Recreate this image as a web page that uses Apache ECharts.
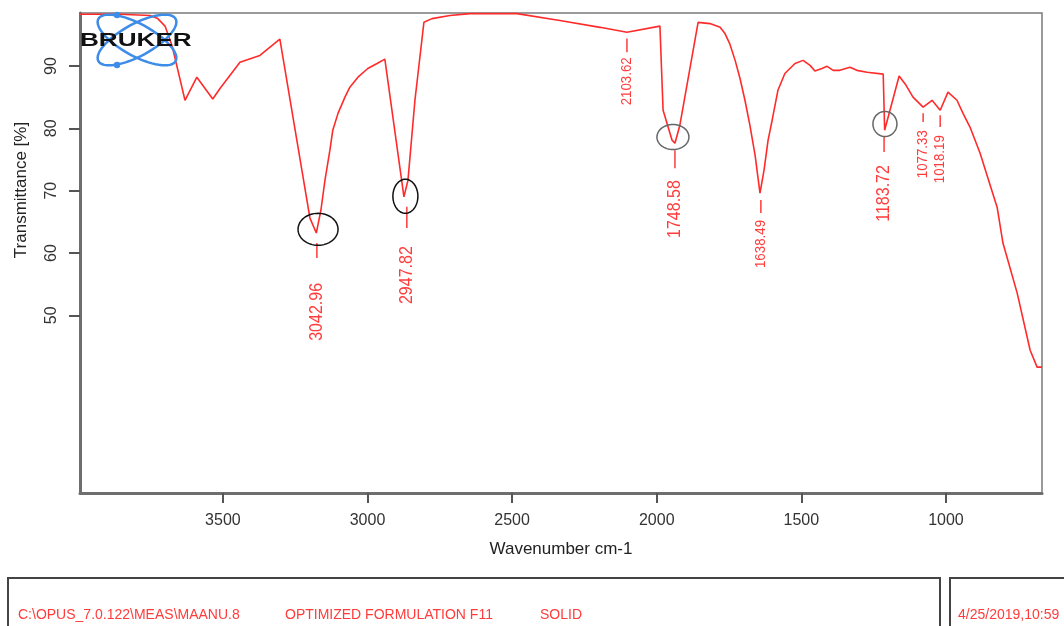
<!DOCTYPE html>
<html><head><meta charset="utf-8">
<script src="https://cdn.jsdelivr.net/npm/echarts@6/dist/echarts.min.js"></script>
<style>html,body{margin:0;padding:0;background:#fff}#c{width:1064px;height:626px}</style>
</head><body><div id="c"></div>
<script>
// ---- data ----
const wavenumber = [3994,3856,3752,3725,3700,3676,3631,3590,3535,3510,3441,3372,3303,3199,3177,3161,3147,3130,3120,3102,3078,3061,3033,2999,2967,2940,2874,2860,2836,2805,2777,2715,2646,2483,2335,2196,2103,1989,1978,1947,1937,1920,1857,1816,1781,1764,1747,1729,1712,1695,1678,1660,1643,1629,1615,1601,1581,1557,1522,1494,1470,1453,1429,1411,1390,1367,1332,1308,1273,1217,1212,1162,1138,1114,1079,1048,1020,993,962,941,917,882,823,803,754,709,685,668];
const transmittance = [98.3,98.3,98.1,97.6,96.4,93.3,84.5,88.2,84.7,86.4,90.6,91.7,94.3,65.6,63.2,66.9,71.7,76.5,79.7,82.4,85.0,86.6,88.2,89.6,90.4,91.1,69.0,71.7,84.5,97.0,97.6,98.1,98.4,98.4,97.3,96.2,95.4,96.4,82.9,78.1,77.6,80.5,97.0,96.8,96.2,95.2,93.5,90.9,88.0,84.5,80.5,75.7,69.6,73.3,78.1,81.3,86.1,88.8,90.4,90.9,90.1,89.2,89.6,89.95,89.3,89.3,89.8,89.3,89.0,88.7,79.7,88.4,86.9,85.0,83.4,84.5,82.9,85.8,84.5,82.4,80.2,76.0,67.3,61.6,53.6,44.4,41.7,41.7];
const xTicks = [3500,3000,2500,2000,1500,1000];
const yTicks = [50,60,70,80,90];
const peakLabels = ['3042.96','2947.82','2103.62','1748.58','1638.49','1183.72','1077.33','1018.19'];
const peakPos = [3175,2864,2103,1937,1640,1214,1079,1020];
const peakTickTop = [61.6,67.4,94.4,76.5,68.5,78.6,82.4,82.1];
const peakTickBottom = [59.2,64.0,92.2,73.6,66.4,76.2,81.0,80.2];
const peakLabelTop = [55.2,61.1,91.4,71.7,65.3,74.1,79.7,78.9];
const circledW = [3171,2869,1944,1211];
const circledT = [63.8,69.1,78.6,80.7];
const footerTexts = ['C:\\OPUS_7.0.122\\MEAS\\MAANU.8','OPTIMIZED FORMULATION F11','SOLID','4/25/2019,10:59'];

// ---- styles ----
const RED = '#ff2a2a';
const LABEL_RED = '#ff3b3b';
const smallLabels = new Set(['2103.62','1638.49','1077.33','1018.19']);
const circleStyle = [{rx:20,ry:16,c:'#111'},{rx:12.5,ry:17,c:'#111'},{rx:16,ry:12.5,c:'#666'},{rx:12,ry:12.5,c:'#666'}];
const footerX = [18,285,540,958];

const chart = echarts.init(document.getElementById('c'), null, {renderer:'canvas'});
chart.setOption({
  animation:false,
  grid:{left:80,right:22,top:13,bottom:133,show:true,borderColor:'#7a7a7a',borderWidth:1.5,containLabel:false},
  xAxis:{type:'value',inverse:true,min:668,max:3994,
    axisLine:{show:true,lineStyle:{color:'#6e6e6e',width:3}},
    axisTick:{show:true,length:10,lineStyle:{color:'#555',width:2},customValues:xTicks},
    axisLabel:{fontSize:16,color:'#333',margin:20,fontFamily:'Liberation Sans, Arial',customValues:xTicks,formatter:v=>String(v)},
    splitLine:{show:false},
    name:'Wavenumber cm-1',nameLocation:'middle',nameGap:48,
    nameTextStyle:{fontSize:17,color:'#222',fontFamily:'Liberation Sans, Arial'}},
  yAxis:{type:'value',min:21.5,max:98.5,
    axisLine:{show:true,lineStyle:{color:'#6e6e6e',width:3}},
    axisTick:{show:true,length:11,lineStyle:{color:'#555',width:2},customValues:yTicks},
    axisLabel:{fontSize:16,color:'#333',rotate:90,margin:20,fontFamily:'Liberation Sans, Arial',customValues:yTicks,formatter:v=>String(v)},
    splitLine:{show:false}},
  series:[{type:'line',data:wavenumber.map((w,i)=>[w,transmittance[i]]),showSymbol:false,
    lineStyle:{color:RED,width:1.6},itemStyle:{color:RED},clip:true,z:3}]
});

function ellipsePts(cx,cy,rx,ry,rot){
  const pts=[];const n=64;
  for(let k=0;k<n;k++){const a=2*Math.PI*k/n;const x=rx*Math.cos(a),y=ry*Math.sin(a);
    pts.push([cx+x*Math.cos(rot)-y*Math.sin(rot), cy+x*Math.sin(rot)+y*Math.cos(rot)]);}
  return pts;
}
const P=(w,t)=>chart.convertToPixel({gridIndex:0},[w,t]);
const g=[];
// y axis name
g.push({type:'text',x:21,y:190,rotation:Math.PI/2,style:{text:'Transmittance [%]',fontSize:17,fill:'#222',fontFamily:'Liberation Sans, Arial',align:'center',verticalAlign:'middle'}});
// peak annotations
peakLabels.forEach((lab,i)=>{
  const a=P(peakPos[i],peakTickTop[i]), b=P(peakPos[i],peakTickBottom[i]), t=P(peakPos[i],peakLabelTop[i]);
  g.push({type:'line',shape:{x1:a[0],y1:a[1],x2:b[0],y2:b[1]},style:{stroke:LABEL_RED,lineWidth:1.5},z:10});
  const small=smallLabels.has(lab);
  g.push({type:'text',x:t[0],y:t[1],rotation:Math.PI/2,scaleX:small?0.95:0.89,
    style:{text:lab,fontSize:small?14:18,fill:LABEL_RED,fontFamily:'Liberation Sans, Arial',align:'right',verticalAlign:'middle'},z:10});
});
// circled peaks
circledW.forEach((w,i)=>{
  const c=P(w,circledT[i]);const s=circleStyle[i];
  g.push({type:'polygon',shape:{points:ellipsePts(c[0],c[1],s.rx,s.ry,0)},style:{fill:'none',stroke:s.c,lineWidth:1.5},z:11});
});
// Bruker logo
const LB='#3d8ce8';
g.push({type:'polygon',shape:{points:ellipsePts(137,40,44,16,0.5)},style:{fill:'none',stroke:LB,lineWidth:2.5},z:12});
g.push({type:'polygon',shape:{points:ellipsePts(137,40,44,16,-0.5)},style:{fill:'none',stroke:LB,lineWidth:2.5},z:12});
[[117,15],[117,65]].forEach(p=>g.push({type:'circle',shape:{cx:p[0],cy:p[1],r:3.2},style:{fill:LB},z:12}));
g.push({type:'text',x:80,y:41,scaleX:1.45,style:{text:'BRUKER',fontSize:18,fontWeight:'bold',fill:'#111',fontFamily:'Liberation Sans, Arial',align:'left',verticalAlign:'middle'},z:13});
// footer boxes
g.push({type:'rect',shape:{x:8,y:578,width:932,height:80},style:{fill:'none',stroke:'#444',lineWidth:2}});
g.push({type:'rect',shape:{x:950,y:578,width:140,height:80},style:{fill:'none',stroke:'#444',lineWidth:2}});
footerTexts.forEach((t,i)=>g.push({type:'text',x:footerX[i],y:615,style:{text:t,fontSize:14,fill:'#ff3b3b',fontFamily:'Liberation Sans, Arial',align:'left',verticalAlign:'middle'}}));
chart.setOption({graphic:{elements:g}});
</script></body></html>
